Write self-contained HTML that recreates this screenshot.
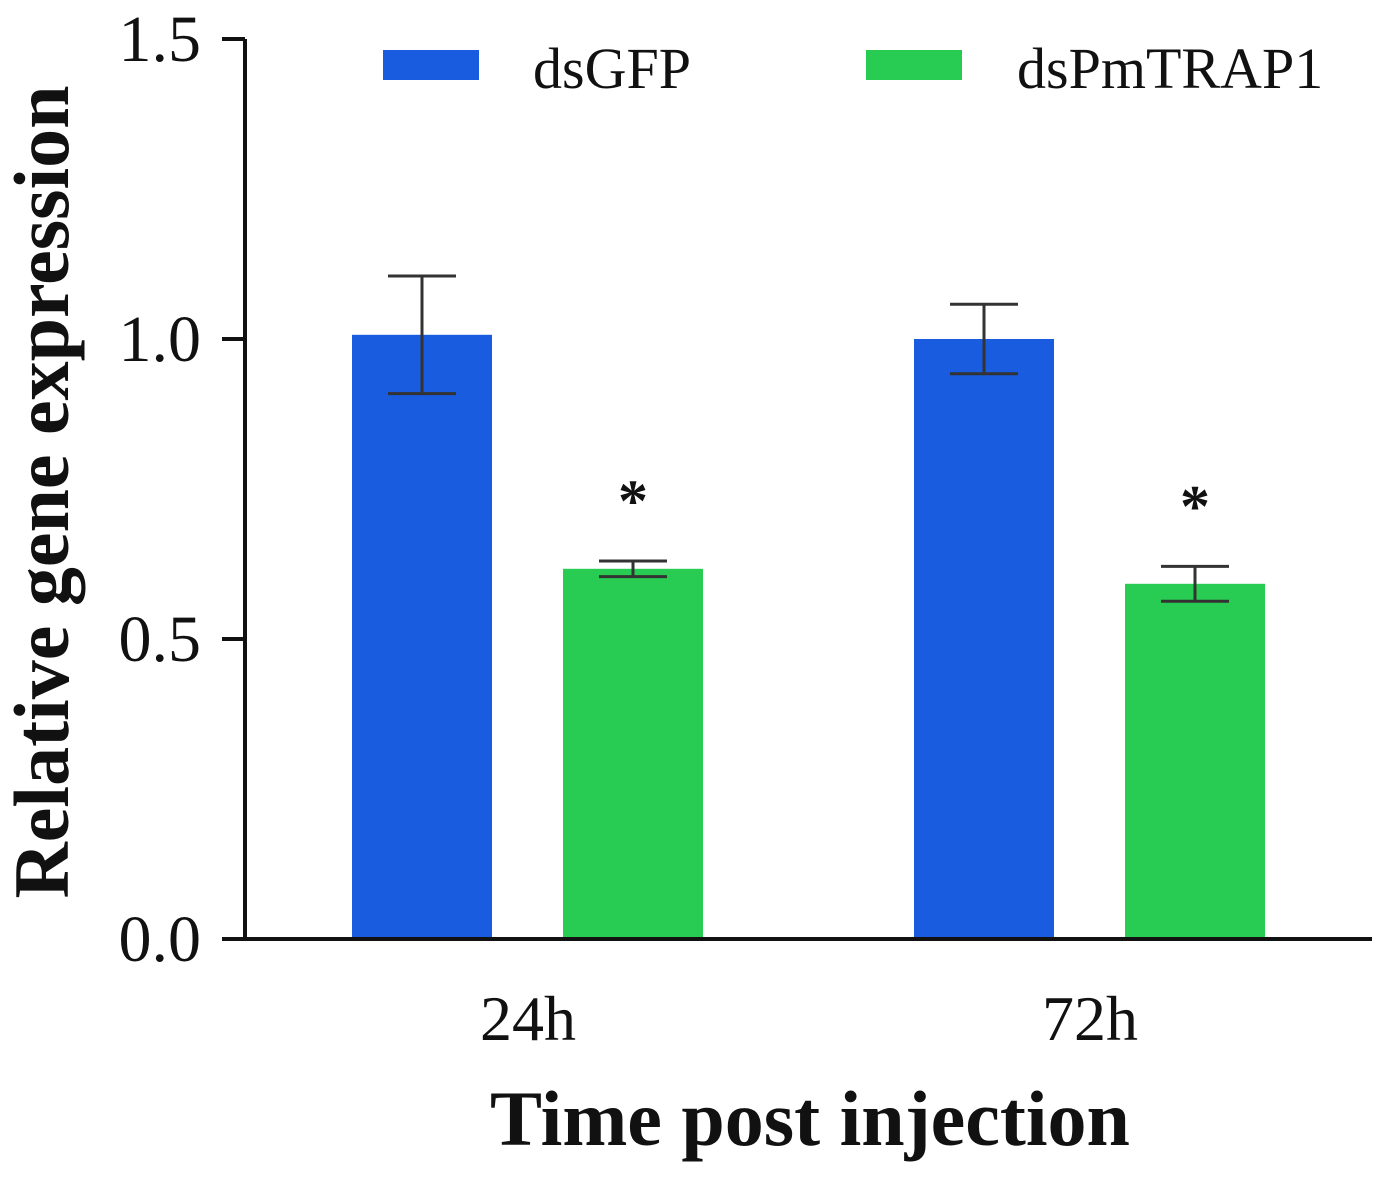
<!DOCTYPE html>
<html><head><meta charset="utf-8"><style>
body{margin:0;background:#fff}
svg text{font-family:"Liberation Serif",serif;fill:#111}
</style></head><body>
<svg id="chart" width="1393" height="1179" xmlns="http://www.w3.org/2000/svg"></svg>
<script>
const categories=["24h","72h"];
const seriesNames=["dsGFP","dsPmTRAP1"];
const seriesColors=["#1a5ce0","#29cc52"];
const dsGFP=[1.007,1.0];
const dsGFPerr=[0.098,0.058];
const dsPm=[0.617,0.592];
const dsPmErr=[0.013,0.029];
const sig=["*","*"];
const yTicks=[0,0.5,1.0,1.5];
const yTickLabels=["0.0","0.5","1.0","1.5"];

const svg=document.getElementById('chart');
const NS="http://www.w3.org/2000/svg";
function mk(t,a,txt){const e=document.createElementNS(NS,t);for(const k in a)e.setAttribute(k,a[k]);if(txt!==undefined)e.textContent=txt;svg.appendChild(e);return e;}
const y=v=>939-v*600;
const groupX=i=>352+i*562;
const barX=(g,s)=>groupX(g)+s*211;
const bw=140;

yTicks.forEach((t,i)=>{
  const l=mk('line',{x1:222,x2:245,y1:y(t),y2:y(t),stroke:'#111','stroke-width':4});
  
  const tx=mk('text',{x:201,y:y(t)+22,'text-anchor':'end','font-size':66},yTickLabels[i]);
  
});
const series=[[dsGFP,dsGFPerr],[dsPm,dsPmErr]];
categories.forEach((c,g)=>{
  series.forEach((s,si)=>{
    const v=s[0][g],e=s[1][g],x=barX(g,si);
    const r=mk('rect',{x:x,y:y(v),width:bw,height:y(0)-y(v),fill:seriesColors[si]});
    
    const cx=x+bw/2;
    const eb=mk('path',{d:`M${cx-34},${y(v+e)}H${cx+34}M${cx},${y(v+e)}V${y(v-e)}M${cx-34},${y(v-e)}H${cx+34}`,stroke:'#333','stroke-width':3,fill:'none'});
    
    if(si===1){
      const a=mk('text',{x:cx,y:y(v+e)-40,'text-anchor':'middle','font-size':60,'font-weight':'bold','font-family':'Liberation Sans'},sig[g]);
      
    }
  });
  const xl=mk('text',{x:groupX(g)+176,y:1040,'text-anchor':'middle','font-size':64},c);
  
});
const ax=mk('path',{d:'M245,39V939H1372',stroke:'#111','stroke-width':4,fill:'none'});

[[383,533],[866,1017]].forEach((p,i)=>{
  const r=mk('rect',{x:p[0],y:50,width:96,height:30,fill:seriesColors[i]});
  
  const t=mk('text',{x:p[1],y:88,'font-size':58},seriesNames[i]);
  
});
const xt=mk('text',{x:810,y:1145,'text-anchor':'middle','font-size':78,'font-weight':'bold'},'Time post injection');

const yt=mk('text',{x:0,y:0,'text-anchor':'middle','font-size':78,'font-weight':'bold',transform:'translate(68,492) rotate(-90)'},'Relative gene expression');

</script>
</body></html>
